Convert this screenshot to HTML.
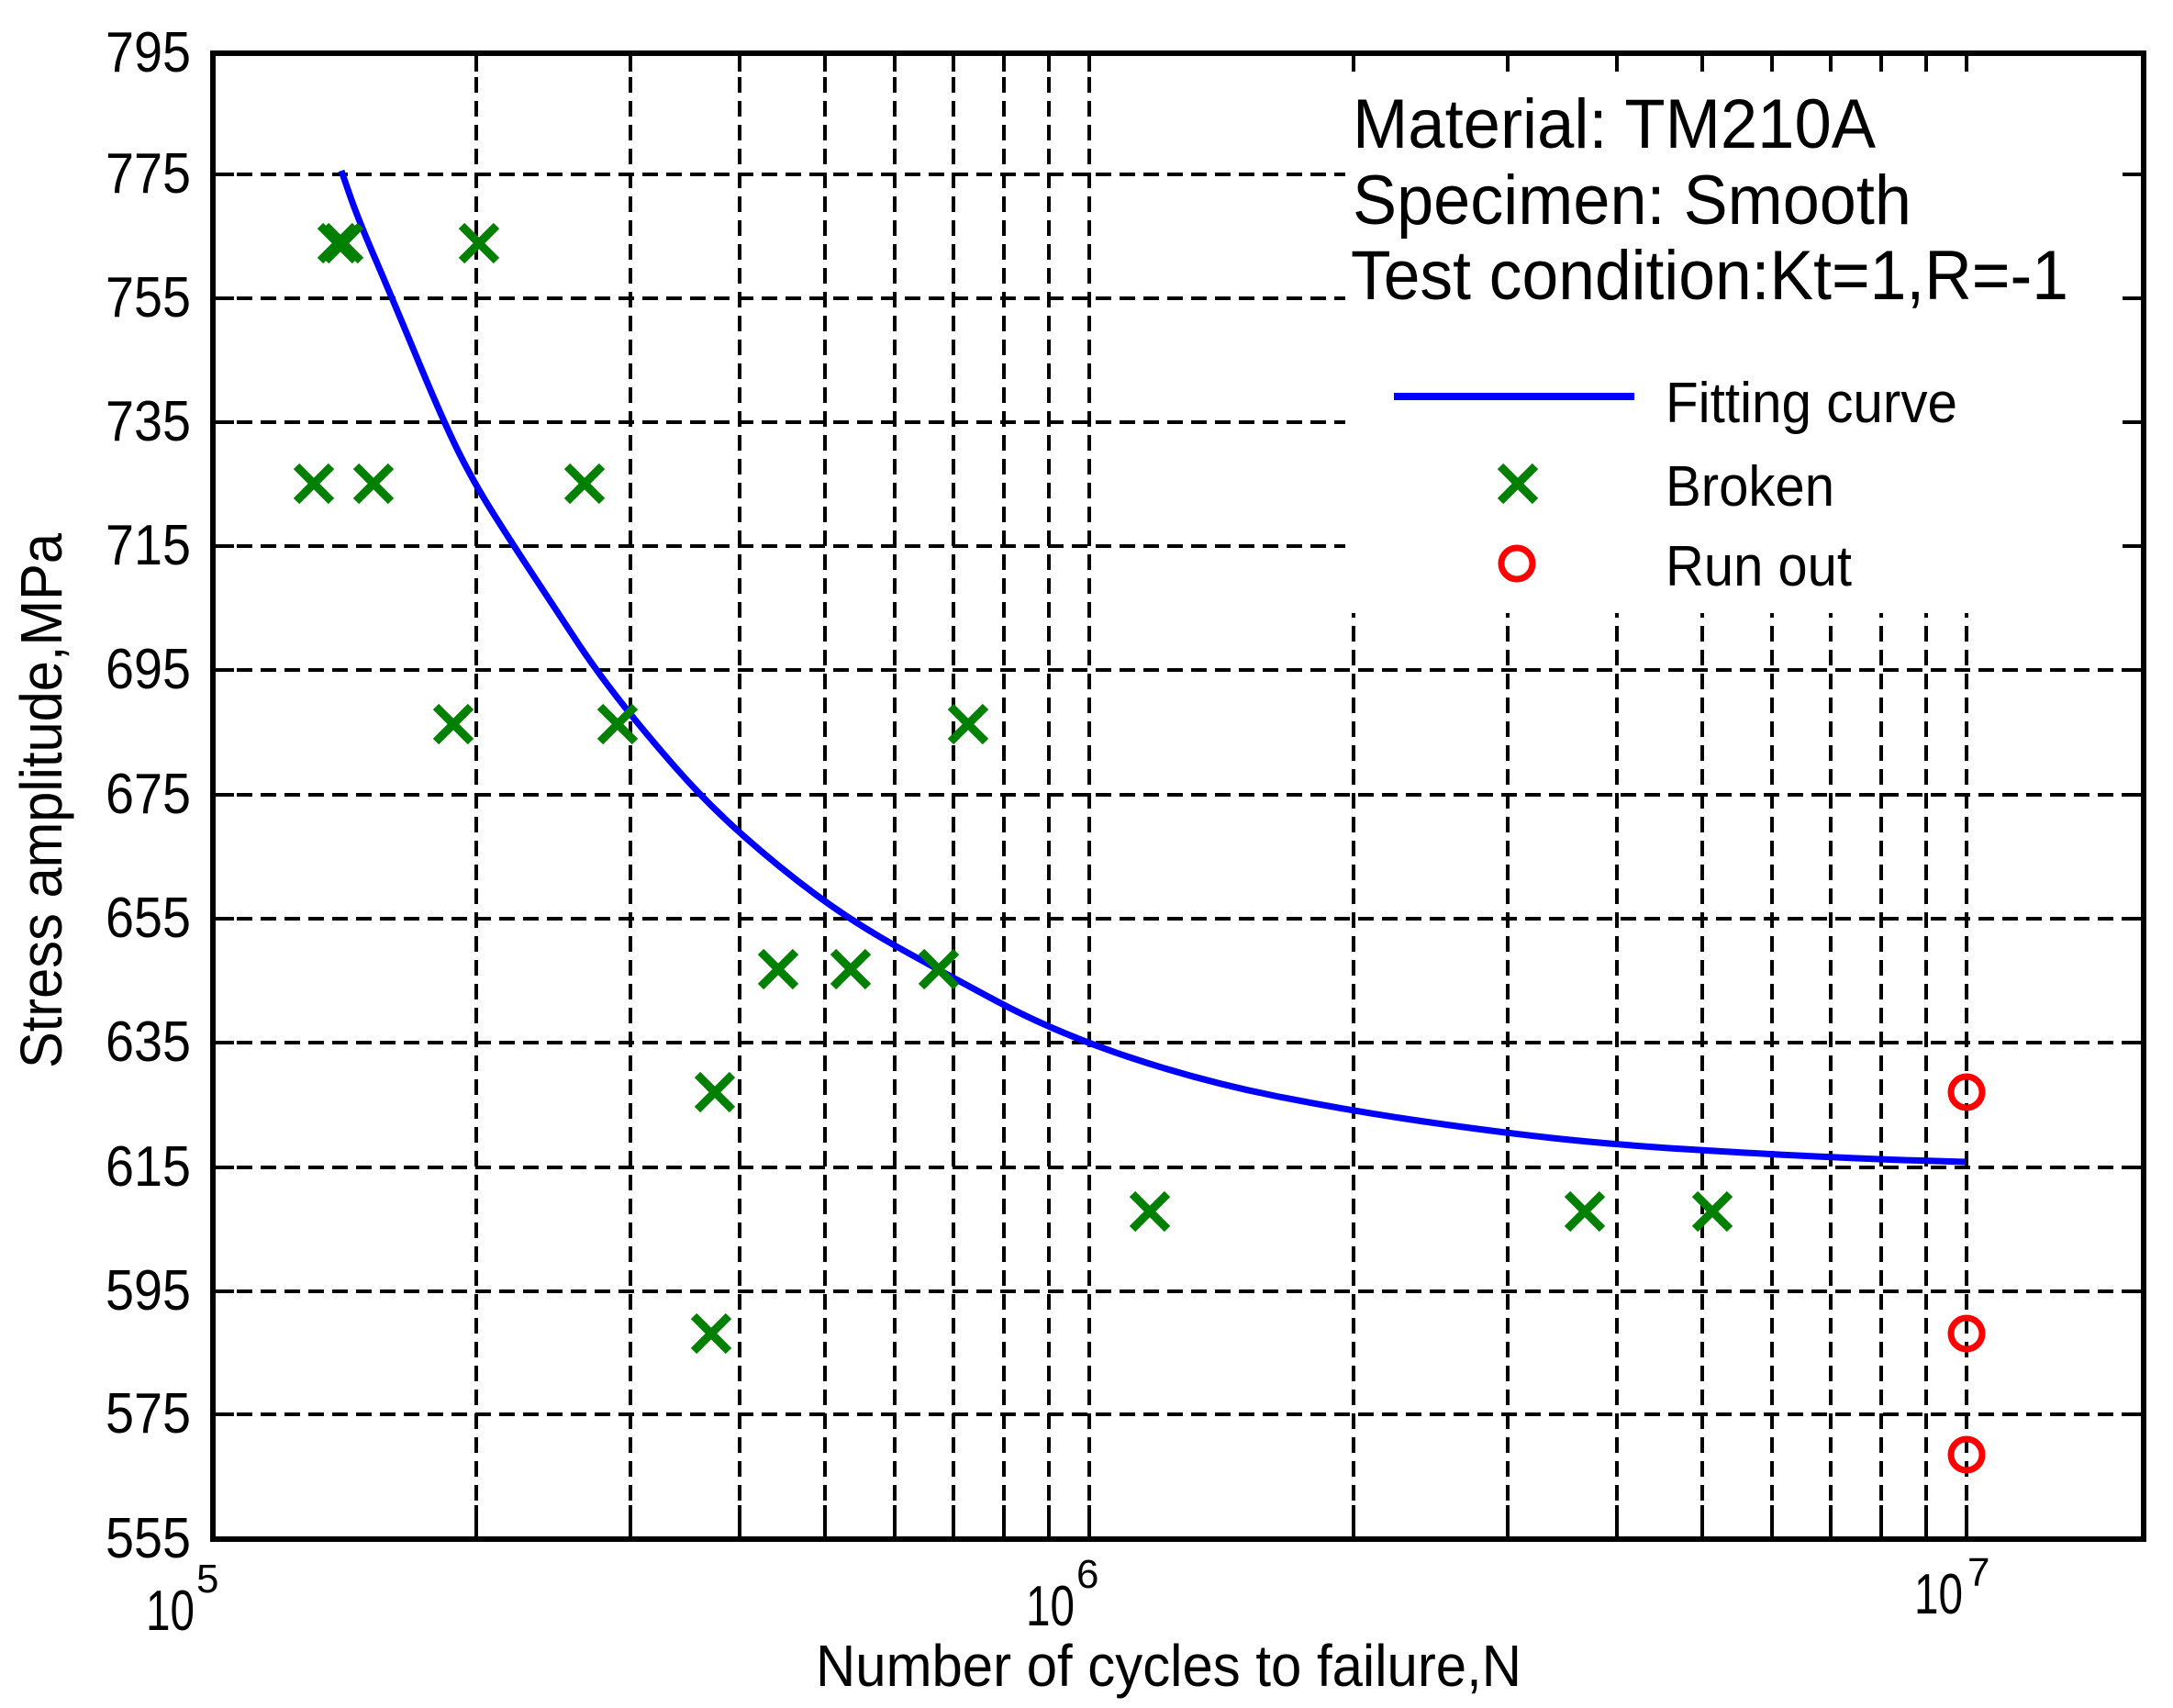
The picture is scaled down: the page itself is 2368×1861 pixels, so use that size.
<!DOCTYPE html>
<html><head><meta charset="utf-8"><style>html,body{margin:0;padding:0;background:#fff}svg{display:block}</style></head>
<body>
<svg width="2368" height="1861" viewBox="0 0 2368 1861" xmlns="http://www.w3.org/2000/svg" font-family="Liberation Sans, sans-serif">
<rect width="2368" height="1861" fill="#fff"/>
<g stroke="#000" stroke-width="4" stroke-dasharray="17,9" fill="none">
<line x1="232" y1="190" x2="2336" y2="190"/>
<line x1="232" y1="325" x2="2336" y2="325"/>
<line x1="232" y1="460" x2="2336" y2="460"/>
<line x1="232" y1="595" x2="2336" y2="595"/>
<line x1="232" y1="730" x2="2336" y2="730"/>
<line x1="232" y1="866" x2="2336" y2="866"/>
<line x1="232" y1="1001" x2="2336" y2="1001"/>
<line x1="232" y1="1136" x2="2336" y2="1136"/>
<line x1="232" y1="1272" x2="2336" y2="1272"/>
<line x1="232" y1="1407" x2="2336" y2="1407"/>
<line x1="232" y1="1541" x2="2336" y2="1541"/>
<line x1="519" y1="58" x2="519" y2="1677"/>
<line x1="687" y1="58" x2="687" y2="1677"/>
<line x1="806" y1="58" x2="806" y2="1677"/>
<line x1="899" y1="58" x2="899" y2="1677"/>
<line x1="975" y1="58" x2="975" y2="1677"/>
<line x1="1039" y1="58" x2="1039" y2="1677"/>
<line x1="1094" y1="58" x2="1094" y2="1677"/>
<line x1="1143" y1="58" x2="1143" y2="1677"/>
<line x1="1187" y1="58" x2="1187" y2="1677"/>
<line x1="1475" y1="58" x2="1475" y2="1677"/>
<line x1="1643" y1="58" x2="1643" y2="1677"/>
<line x1="1762" y1="58" x2="1762" y2="1677"/>
<line x1="1855" y1="58" x2="1855" y2="1677"/>
<line x1="1931" y1="58" x2="1931" y2="1677"/>
<line x1="1995" y1="58" x2="1995" y2="1677"/>
<line x1="2050" y1="58" x2="2050" y2="1677"/>
<line x1="2099" y1="58" x2="2099" y2="1677"/>
<line x1="2143" y1="58" x2="2143" y2="1677"/>
</g>
<rect x="1466" y="61" width="868" height="607" fill="#fff"/>
<g stroke="#000" stroke-width="4">
<path d="M519 1677v-37M687 1677v-37M806 1677v-37M899 1677v-37M975 1677v-37M1039 1677v-37M1094 1677v-37M1143 1677v-37M1187 1677v-37M1475 1677v-37M1643 1677v-37M1762 1677v-37M1855 1677v-37M1931 1677v-37M1995 1677v-37M2050 1677v-37M2099 1677v-37M2143 1677v-37"/>
<path d="M519 58v20M687 58v20M806 58v20M899 58v20M975 58v20M1039 58v20M1094 58v20M1143 58v20M1187 58v20M1475 58v20M1643 58v20M1762 58v20M1855 58v20M1931 58v20M1995 58v20M2050 58v20M2099 58v20M2143 58v20"/>
<path d="M232 190h23M232 325h23M232 460h23M232 595h23M232 730h23M232 866h23M232 1001h23M232 1136h23M232 1272h23M232 1407h23M232 1541h23"/>
<path d="M2336 190h-23M2336 325h-23M2336 460h-23M2336 595h-23M2336 730h-23M2336 866h-23M2336 1001h-23M2336 1136h-23M2336 1272h-23M2336 1407h-23M2336 1541h-23"/>
</g>
<rect x="232" y="58" width="2104" height="1619" fill="none" stroke="#000" stroke-width="6"/>
<path fill="none" stroke="#0000ff" stroke-width="7" d="M372,186 L381,212 Q390,238 408.5,281 Q427,324 455,391.5 Q483,459 500,493 Q517,527 538.5,561 Q560,595 583.5,630.5 Q607,666 627,696.5 Q647,727 673.5,761 Q700,795 735,835 Q770,875 810,910.5 Q850,946 890,975.5 Q930,1005 976.5,1031 Q1023,1057 1086.5,1091 Q1150,1125 1229.5,1151.5 Q1309,1178 1389,1194 Q1469,1210 1548.5,1221.5 Q1628,1233 1692,1240 Q1756,1247 1835.5,1252 Q1915,1257 1979,1260 Q2043,1263 2092.5,1264.5 L2142,1266"/>
<g stroke="#008000" stroke-width="9" fill="none">
<path d="M-19 -19L19 19M-19 19L19 -19" transform="translate(368,265)"/>
<path d="M-19 -19L19 19M-19 19L19 -19" transform="translate(374,265)"/>
<path d="M-19 -19L19 19M-19 19L19 -19" transform="translate(522,265)"/>
<path d="M-19 -19L19 19M-19 19L19 -19" transform="translate(342,527)"/>
<path d="M-19 -19L19 19M-19 19L19 -19" transform="translate(407,527)"/>
<path d="M-19 -19L19 19M-19 19L19 -19" transform="translate(637,527)"/>
<path d="M-19 -19L19 19M-19 19L19 -19" transform="translate(494,789)"/>
<path d="M-19 -19L19 19M-19 19L19 -19" transform="translate(673,789)"/>
<path d="M-19 -19L19 19M-19 19L19 -19" transform="translate(1055,789)"/>
<path d="M-19 -19L19 19M-19 19L19 -19" transform="translate(848,1056)"/>
<path d="M-19 -19L19 19M-19 19L19 -19" transform="translate(927,1056)"/>
<path d="M-19 -19L19 19M-19 19L19 -19" transform="translate(1023,1056)"/>
<path d="M-19 -19L19 19M-19 19L19 -19" transform="translate(779,1190)"/>
<path d="M-19 -19L19 19M-19 19L19 -19" transform="translate(775,1453)"/>
<path d="M-19 -19L19 19M-19 19L19 -19" transform="translate(1253,1320)"/>
<path d="M-19 -19L19 19M-19 19L19 -19" transform="translate(1727,1320)"/>
<path d="M-19 -19L19 19M-19 19L19 -19" transform="translate(1866,1320)"/>
<path d="M-19 -19L19 19M-19 19L19 -19" transform="translate(1654,527)"/>
</g>
<g stroke="#ff0000" stroke-width="7" fill="none">
<circle cx="2143" cy="1190" r="17"/>
<circle cx="2143" cy="1453" r="17"/>
<circle cx="2143" cy="1585" r="17"/>
<circle cx="1653" cy="614" r="17"/>
</g>
<line x1="1519" y1="432" x2="1781" y2="432" stroke="#0000ff" stroke-width="8"/>
<g fill="#000" font-size="76">
<text x="1474" y="161" textLength="570" lengthAdjust="spacingAndGlyphs">Material: TM210A</text>
<text x="1474" y="244" textLength="609" lengthAdjust="spacingAndGlyphs">Specimen: Smooth</text>
<text x="1472" y="326" textLength="782" lengthAdjust="spacingAndGlyphs">Test condition:Kt=1,R=-1</text>
</g>
<g fill="#000" font-size="62">
<text x="1815" y="460" textLength="318" lengthAdjust="spacingAndGlyphs">Fitting curve</text>
<text x="1815" y="551" textLength="184" lengthAdjust="spacingAndGlyphs">Broken</text>
<text x="1815" y="638" textLength="203" lengthAdjust="spacingAndGlyphs">Run out</text>
</g>
<g fill="#000" font-size="62" text-anchor="end">
<text x="208" y="78" textLength="93" lengthAdjust="spacingAndGlyphs">795</text>
<text x="208" y="210" textLength="93" lengthAdjust="spacingAndGlyphs">775</text>
<text x="208" y="345" textLength="93" lengthAdjust="spacingAndGlyphs">755</text>
<text x="208" y="480" textLength="93" lengthAdjust="spacingAndGlyphs">735</text>
<text x="208" y="615" textLength="93" lengthAdjust="spacingAndGlyphs">715</text>
<text x="208" y="750" textLength="93" lengthAdjust="spacingAndGlyphs">695</text>
<text x="208" y="886" textLength="93" lengthAdjust="spacingAndGlyphs">675</text>
<text x="208" y="1021" textLength="93" lengthAdjust="spacingAndGlyphs">655</text>
<text x="208" y="1156" textLength="93" lengthAdjust="spacingAndGlyphs">635</text>
<text x="208" y="1292" textLength="93" lengthAdjust="spacingAndGlyphs">615</text>
<text x="208" y="1427" textLength="93" lengthAdjust="spacingAndGlyphs">595</text>
<text x="208" y="1561" textLength="93" lengthAdjust="spacingAndGlyphs">575</text>
<text x="208" y="1697" textLength="93" lengthAdjust="spacingAndGlyphs">555</text>
</g>
<g fill="#000" font-size="62">
<text x="159" y="1776" textLength="53" lengthAdjust="spacingAndGlyphs">10</text>
<text x="214" y="1735" font-size="44">5</text>
<text x="1118" y="1771" textLength="53" lengthAdjust="spacingAndGlyphs">10</text>
<text x="1173" y="1730" font-size="44">6</text>
<text x="2086" y="1758" textLength="53" lengthAdjust="spacingAndGlyphs">10</text>
<text x="2144" y="1728" font-size="44">7</text>
</g>
<text x="889" y="1837" font-size="64" textLength="769" lengthAdjust="spacingAndGlyphs" fill="#000">Number of cycles to failure,N</text>
<text transform="translate(67,1164) rotate(-90)" x="0" y="0" font-size="64" textLength="583" lengthAdjust="spacingAndGlyphs" fill="#000">Stress amplitude,MPa</text>
</svg>
</body></html>
